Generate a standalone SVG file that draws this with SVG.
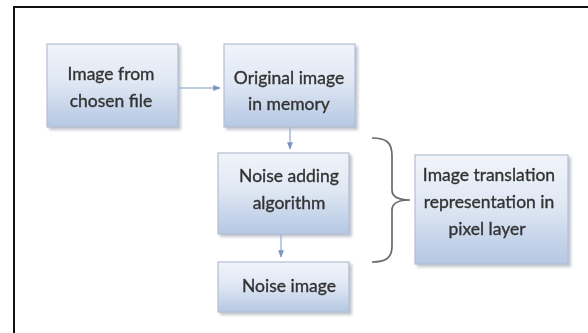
<svg xmlns="http://www.w3.org/2000/svg" width="588" height="333" viewBox="0 0 588 333">
  <defs>
    <linearGradient id="boxFill" x1="0" y1="0" x2="0" y2="1">
      <stop offset="0" stop-color="#f1f4fa"/>
      <stop offset="0.45" stop-color="#e0e8f4"/>
      <stop offset="1" stop-color="#b5c7e3"/>
    </linearGradient>
    <filter id="soft" x="-10%" y="-10%" width="130%" height="130%">
      <feGaussianBlur stdDeviation="0.6"/>
    </filter>
    <filter id="shadow" x="-10%" y="-10%" width="130%" height="130%">
      <feGaussianBlur stdDeviation="1.5"/>
    </filter>
    <marker id="head" viewBox="0 0 10 10" refX="9" refY="5" markerWidth="5" markerHeight="5" orient="auto">
      <path d="M0,1 L10,5 L0,9 Z" fill="#7d95c2"/>
    </marker>
  </defs>
  <style>
    .box { fill: url(#boxFill); stroke: #b3bfd3; stroke-width: 1.2; }
    .shade { fill: #8e97a6; opacity: 0.55; filter: url(#shadow); }
    .label { font-family: Lato, "Liberation Sans", sans-serif; font-size: 17.5px; fill: #333333; stroke: #333333; stroke-width: 0.35; text-anchor: middle; filter: url(#soft); }
    .link { stroke: #a9b9d9; stroke-width: 1.5; fill: none; marker-end: url(#head); }
  </style>

  <rect width="588" height="333" fill="#ffffff"/>
  <!-- frame -->
  <rect x="14" y="7" width="590" height="340" fill="none" stroke="#111111" stroke-width="2"/>

  <g id="node-source">
    <rect class="shade" x="49" y="46" width="132" height="84"/>
    <rect class="box" x="47" y="44" width="131" height="83"/>
    <text class="label" x="111" y="80">Image from</text>
    <text class="label" x="111" y="107">chosen file</text>
  </g>

  <g id="node-memory">
    <rect class="shade" x="226" y="46" width="132" height="84"/>
    <rect class="box" x="224" y="44" width="131" height="83"/>
    <text class="label" x="289" y="84">Original image</text>
    <text class="label" x="289" y="110">in memory</text>
  </g>

  <g id="node-noise-alg">
    <rect class="shade" x="220" y="155" width="132" height="82"/>
    <rect class="box" x="218" y="153" width="131" height="81"/>
    <text class="label" x="289" y="182">Noise adding</text>
    <text class="label" x="289" y="209">algorithm</text>
    <line x1="352" y1="196" x2="352" y2="205" stroke="#6f7a8c" stroke-width="1.5" filter="url(#soft)"/>
  </g>

  <g id="node-noise-image">
    <rect class="shade" x="220" y="264" width="132" height="51"/>
    <rect class="box" x="218" y="262" width="131" height="50"/>
    <text class="label" x="289" y="292">Noise image</text>
  </g>

  <g id="node-translation">
    <rect class="shade" x="417" y="157" width="154" height="110"/>
    <rect class="box" x="415" y="155" width="153" height="109"/>
    <text class="label" x="489" y="181">Image translation</text>
    <text class="label" x="489" y="208">representation  in</text>
    <text class="label" x="487" y="235">pixel layer</text>
  </g>

  <g id="connectors">
    <line class="link" x1="179" y1="88" x2="220" y2="88"/>
    <line class="link" x1="290" y1="127" x2="290" y2="149"/>
    <line class="link" x1="281" y1="234" x2="281" y2="257"/>
    <!-- brace grouping the pixel-layer steps -->
    <path d="M372,138 C386,138 392,142 392,156 L392,190 C392,197 398,200 410,200 C398,200 392,203 392,210 L392,246 C392,258 386,262 372,262"
          fill="none" stroke="#6a6a6a" stroke-width="1.7" filter="url(#soft)"/>
  </g>
</svg>
